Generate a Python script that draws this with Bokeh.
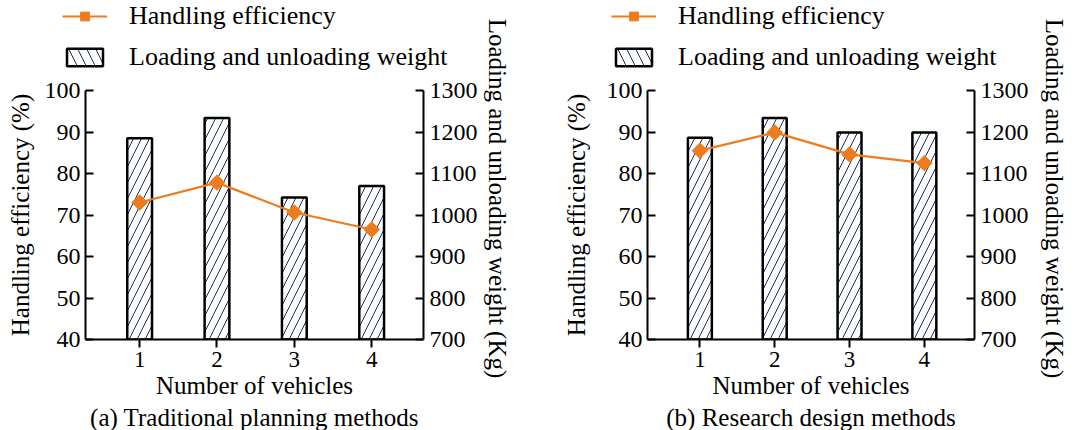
import math
from bokeh.plotting import figure
from bokeh.models import (Range1d, LinearAxis, Legend, LegendItem, Label, Title,
                          FixedTicker, ColumnDataSource)
from bokeh.layouts import row, column
from bokeh.embed import file_html
from bokeh.resources import INLINE

# ---------------- data ----------------
vehicles = [1, 2, 3, 4]
weight_traditional = [1185, 1234, 1042, 1070]
efficiency_traditional = [73.0, 77.8, 70.6, 66.5]
weight_research = [1186, 1234, 1199, 1199]
efficiency_research = [85.5, 89.9, 84.6, 82.5]
efficiency_ticks = [40, 50, 60, 70, 80, 90, 100]
weight_ticks = [700, 800, 900, 1000, 1100, 1200, 1300]
panel_titles = ["(a) Traditional planning methods", "(b) Research design methods"]
x_label = "Number of vehicles"
left_label = "Handling efficiency (%)"
right_label = "Loading and unloading weight (Kg)"
series_names = ["Handling efficiency", "Loading and unloading weight"]

FONT = "Liberation Serif"
ORANGE = "#EE7B1E"
NAVY = "#1B2A6B"
TOP = 15      # space above the frame of the main figure (for the "100"/"1300" labels)
LEG_H = 75    # height of the legend strip


def style_axis(ax, tick_in, tick_out, size="24px"):
    ax.axis_line_width = 2
    ax.axis_line_color = "black"
    ax.major_tick_line_width = 2
    ax.major_tick_line_color = "black"
    ax.major_tick_in = tick_in
    ax.major_tick_out = tick_out
    ax.minor_tick_line_color = None
    ax.major_label_text_font = FONT
    ax.major_label_text_font_size = size
    ax.major_label_text_color = "black"
    ax.axis_label_text_font = FONT
    ax.axis_label_text_font_size = "25px"
    ax.axis_label_text_font_style = "normal"
    ax.axis_label_text_color = "black"


def blank(width, height):
    f = figure(width=width, height=height, output_backend="svg", toolbar_location=None,
               x_axis_location=None, y_axis_location=None, min_border=0,
               x_range=Range1d(0.3, 4.67), y_range=Range1d(40, 100))
    f.outline_line_color = None
    f.grid.visible = False
    return f


def make_panel(weights, effs, title, main_w, label_w, bl, legend_x, lab_std, rlabel_x):
    src = ColumnDataSource(dict(x=vehicles, w=weights, e=effs))

    # ---------- main chart ----------
    p = figure(width=main_w, height=430 - LEG_H, x_range=Range1d(0.3, 4.67),
               y_range=Range1d(40, 100), output_backend="svg", toolbar_location=None,
               min_border_left=bl, min_border_right=40, min_border_top=TOP,
               min_border_bottom=90)
    p.extra_y_ranges = {"weight": Range1d(700, 1300)}
    p.outline_line_color = None
    p.grid.visible = False

    p.vbar(x="x", top="w", bottom=700, width=0.32, source=src, y_range_name="weight",
           fill_color="white", line_color="black", line_width=2.5,
           hatch_pattern="/", hatch_color=NAVY, hatch_scale=16, hatch_weight=1)
    p.line("x", "e", source=src, line_color=ORANGE, line_width=2.2)
    p.scatter("x", "e", source=src, marker="square", angle=math.pi / 4, size=11,
              fill_color=ORANGE, line_color=ORANGE)

    p.xaxis.ticker = FixedTicker(ticks=vehicles)
    p.xaxis.axis_label = x_label
    p.xaxis.major_label_standoff = 4
    p.xaxis.axis_label_standoff = 2
    style_axis(p.xaxis[0], 0, 8, "23px")

    p.yaxis.ticker = FixedTicker(ticks=efficiency_ticks)
    p.yaxis.axis_label = left_label
    p.yaxis.major_label_standoff = 5
    p.yaxis.axis_label_standoff = lab_std
    style_axis(p.yaxis[0], 8, 0)

    rax = LinearAxis(y_range_name="weight", ticker=FixedTicker(ticks=weight_ticks))
    rax.major_label_standoff = 6
    style_axis(rax, 8, 0)
    p.add_layout(rax, "right")

    p.add_layout(Title(text=title, align="center", standoff=0,
                       text_font=FONT, text_font_size="25px", text_font_style="normal",
                       text_color="black"), "below")

    # ---------- legend strip: hidden copies of the series, only their legend icons show ----------
    lg = blank(main_w, LEG_H)
    ln = lg.line("x", "e", source=src, line_color=ORANGE, line_width=2.2, visible=False)
    mk = lg.scatter("x", "e", source=src, marker="square", angle=math.pi / 4, size=11,
                    fill_color=ORANGE, line_color=ORANGE, visible=False)
    bi = lg.vbar(x="x", top="e", bottom=40, width=0.32, source=src,
                 fill_color="white", line_color="black", line_width=2.5,
                 hatch_pattern="\\", hatch_color=NAVY, hatch_scale=18, hatch_weight=1,
                 visible=False)
    legend = Legend(items=[LegendItem(label=series_names[0], renderers=[ln, mk]),
                           LegendItem(label=series_names[1], renderers=[bi])],
                    location=(legend_x, 3), padding=0, margin=0, spacing=11,
                    glyph_width=45, glyph_height=22, label_standoff=22,
                    border_line_color=None, background_fill_alpha=0,
                    inactive_fill_alpha=0,
                    label_text_font=FONT, label_text_font_size="26px", label_text_color="black")
    lg.add_layout(legend, "center")

    # ---------- right-hand axis title strip ----------
    lb = blank(label_w, 430)
    lb.add_layout(Label(x=rlabel_x, y=430 - 198, x_units="screen", y_units="screen",
                        text=right_label, angle=-math.pi / 2, text_align="center",
                        text_baseline="middle", text_font=FONT, text_font_size="25px",
                        text_color="black"))

    return row(column(row(lg), row(p)), lb)


panel_a = make_panel(weight_traditional, efficiency_traditional, panel_titles[0],
                     480, 65, 85, 62, 8, 17)
panel_b = make_panel(weight_research, efficiency_research, panel_titles[1],
                     486, 60, 102, 66, 14, 23)

layout = row(panel_a, panel_b)
open("out.html", "w").write(file_html(layout, INLINE))
